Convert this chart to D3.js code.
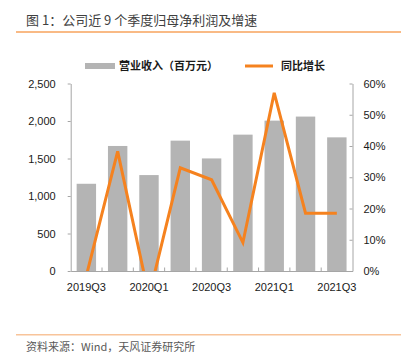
<!DOCTYPE html>
<html>
<head>
<meta charset="utf-8">
<script src="https://cdn.jsdelivr.net/npm/d3@7"></script>
<style>
  body { margin: 0; background: #fff; }
  svg { display: block; }
</style>
</head>
<body>
<div id="chart"></div>
<script>
const quarters = ['2019Q3', '2019Q4', '2020Q1', '2020Q2', '2020Q3', '2020Q4', '2021Q1', '2021Q2', '2021Q3'];
const revenue = [1163, 1667, 1279, 1738, 1501, 1818, 2005, 2059, 1782];
const growth = [-1.5, 38.3, -8.1, 33.0, 29.2, 9.1, 57.0, 18.5, 18.5]; // %
const shownLabels = ['2019Q3', '2020Q1', '2020Q3', '2021Q1', '2021Q3'];
const leftTicks = [0, 500, 1000, 1500, 2000, 2500];
const rightTicks = [0, 10, 20, 30, 40, 50, 60];

const width = 401;
const height = 363;
const plot = { left: 70.7, right: 352.5, top: 83.5, bottom: 271 };

const latin = '"Liberation Sans", Arial, sans-serif';
const cjk = '"Noto Sans CJK SC", "Liberation Sans", sans-serif';
const axisColor = '#a6a6a6';
const barColor = '#b4b4b4';
const lineColor = '#f5821f';

const svg = d3.select('#chart')
  .append('svg')
  .attr('width', width)
  .attr('height', height);

// title + rules
svg.append('text')
  .attr('x', 26).attr('y', 20).attr('dy', '0.36em')
  .attr('font-family', cjk).attr('font-size', 13).attr('fill', '#404040')
  .text('图 1：公司近 9 个季度归母净利润及增速');
svg.append('line')
  .attr('x1', 16).attr('x2', width).attr('y1', 32).attr('y2', 32)
  .attr('stroke', '#f7a35c').attr('stroke-width', 1.5);
svg.append('line')
  .attr('x1', 16).attr('x2', width).attr('y1', 334.7).attr('y2', 334.7)
  .attr('stroke', '#f8c49a').attr('stroke-width', 1.5);
svg.append('text')
  .attr('x', 26).attr('y', 347).attr('dy', '0.36em')
  .attr('font-family', cjk).attr('font-size', 11).attr('fill', '#595959')
  .text('资料来源：Wind，天风证券研究所');

// scales
const pad = 0.38;
const x = d3.scaleBand()
  .domain(quarters)
  .range([plot.left, plot.right])
  .paddingInner(pad)
  .paddingOuter(pad / 2);
const yLeft = d3.scaleLinear().domain([0, 2500]).range([plot.bottom, plot.top]);
const yRight = d3.scaleLinear().domain([0, 60]).range([plot.bottom, plot.top]);

// bars
svg.append('g')
  .selectAll('rect')
  .data(quarters)
  .join('rect')
  .attr('x', d => x(d))
  .attr('y', (d, i) => yLeft(revenue[i]))
  .attr('width', x.bandwidth())
  .attr('height', (d, i) => yLeft(0) - yLeft(revenue[i]))
  .attr('fill', barColor);

// growth line, clipped to plot area
svg.append('clipPath').attr('id', 'plotclip')
  .append('rect')
  .attr('x', plot.left).attr('y', 0)
  .attr('width', plot.right - plot.left).attr('height', plot.bottom);

const line = d3.line()
  .x((d, i) => x(quarters[i]) + x.bandwidth() / 2)
  .y(d => yRight(d));

svg.append('path')
  .datum(growth)
  .attr('d', line)
  .attr('fill', 'none')
  .attr('stroke', lineColor)
  .attr('stroke-width', 3)
  .attr('stroke-linejoin', 'miter')
  .attr('clip-path', 'url(#plotclip)');

// axes
function styleAxis(g) {
  g.select('.domain').attr('stroke', axisColor);
  g.selectAll('.tick line').attr('stroke', axisColor);
  g.selectAll('.tick text')
    .attr('fill', '#1a1a1a')
    .attr('font-family', latin)
    .attr('font-size', 11);
}

svg.append('g')
  .attr('transform', `translate(${plot.left},0)`)
  .call(d3.axisLeft(yLeft).tickValues(leftTicks).tickFormat(d3.format(',')).tickSizeInner(3).tickSizeOuter(0).tickPadding(12))
  .call(styleAxis);

svg.append('g')
  .attr('transform', `translate(${plot.right},0)`)
  .call(d3.axisRight(yRight).tickValues(rightTicks).tickFormat(d => d + '%').tickSizeInner(-3).tickSizeOuter(0).tickPadding(11))
  .call(styleAxis);

const xAxis = svg.append('g')
  .attr('transform', `translate(0,${plot.bottom})`)
  .call(d3.axisBottom(x).tickValues(shownLabels).tickSize(0).tickPadding(12))
  .call(styleAxis);

// category boundary ticks pointing up
const step = x.step();
xAxis.selectAll('.boundary')
  .data(quarters.slice(1))
  .join('line')
  .attr('class', 'boundary')
  .attr('x1', d => x(d) - step * pad / 2)
  .attr('x2', d => x(d) - step * pad / 2)
  .attr('y1', 0).attr('y2', -3.5)
  .attr('stroke', axisColor);

// legend
const legend = svg.append('g')
  .attr('font-family', cjk)
  .attr('font-size', 11)
  .attr('font-weight', 'bold')
  .attr('fill', '#1a1a1a');
legend.append('rect')
  .attr('x', 85).attr('y', 63).attr('width', 30).attr('height', 6)
  .attr('fill', barColor);
legend.append('text')
  .attr('x', 119).attr('y', 66).attr('dy', '0.36em')
  .text('营业收入（百万元）');
legend.append('line')
  .attr('x1', 245).attr('x2', 273).attr('y1', 66).attr('y2', 66)
  .attr('stroke', lineColor).attr('stroke-width', 3);
legend.append('text')
  .attr('x', 281).attr('y', 66).attr('dy', '0.36em')
  .text('同比增长');
</script>
</body>
</html>
